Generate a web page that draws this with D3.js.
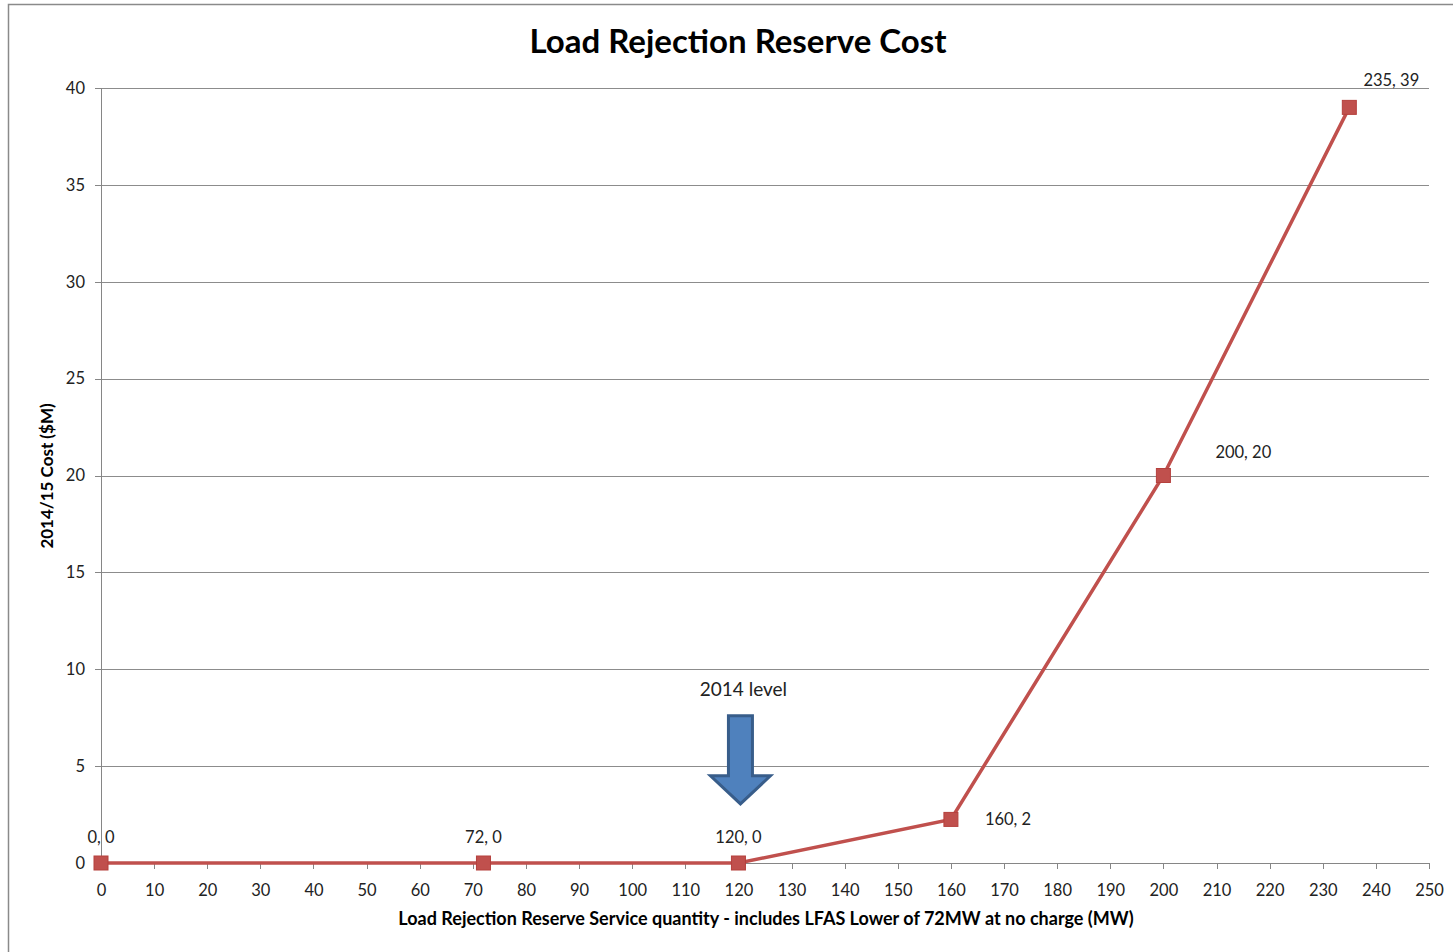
<!DOCTYPE html>
<html lang="en">
  <head>
    <meta charset="utf-8"/>
    <style>
      body {
        margin: 0;
        background: #fff;
        font-family: Lato, "Open Sans", sans-serif;
      }
      .axis text {
        font-family: Lato, "Open Sans", sans-serif;
        font-size: 16.5px;
        fill: #222;
      }
      .axis path,
      .axis line {
        stroke: #868686;
        shape-rendering: crispEdges;
      }
      .grid line {
        stroke: #8c8c8c;
        shape-rendering: crispEdges;
      }
      .grid path {
        display: none;
      }
    </style>
    <script src="https://cdn.jsdelivr.net/npm/d3@7"></script>
  </head>
  <body>
    <script type="text/javascript">
      // chart data
      var quantity = [0, 72, 120, 160, 200, 235];
      var cost = [0, 0, 0, 2.25, 20, 39];
      var pointLabels = ["0, 0", "72, 0", "120, 0", "160, 2", "200, 20", "235, 39"];
      var xTicks = d3.range(0, 251, 10);
      var yTicks = [0, 5, 10, 15, 20, 25, 30, 35, 40];
      var markerLevel = 120;
      var markerText = "2014 level";

      var w = 1453;
      var h = 952;
      var padL = 101, padR = 1429, padT = 88, padB = 863;

      var svg = d3.select("body")
                  .append("svg")
                  .attr("width", w)
                  .attr("height", h);

      // outer chart frame
      svg.append("rect")
         .attr("x", 8.5)
         .attr("y", 4.5)
         .attr("width", 1460)
         .attr("height", 960)
         .attr("fill", "none")
         .attr("stroke", "#8a8a8a")
         .attr("stroke-width", 1.5);

      var xScale = d3.scaleLinear()
                     .domain([0, 250])
                     .range([padL, padR]);
      var yScale = d3.scaleLinear()
                     .domain([0, 40])
                     .range([padB, padT]);

      // horizontal gridlines
      svg.append("g")
         .attr("class", "grid")
         .attr("transform", "translate(" + padL + ",0)")
         .call(d3.axisLeft(yScale).tickValues(yTicks).tickSize(-(padR - padL)).tickFormat(""));

      // y axis
      svg.append("g")
         .attr("class", "axis")
         .attr("transform", "translate(" + padL + ",0)")
         .call(d3.axisLeft(yScale).tickValues(yTicks).tickSize(6).tickPadding(10))
         .call(function(g) { g.select(".domain").attr("d", "M0," + padB + "V" + padT); });

      // x axis
      svg.append("g")
         .attr("class", "axis")
         .attr("transform", "translate(0," + padB + ")")
         .call(d3.axisBottom(xScale).tickValues(xTicks).tickSize(6).tickPadding(15))
         .call(function(g) { g.select(".domain").attr("d", "M" + padL + ",0H" + padR); });

      // data line
      var line = d3.line()
                   .x(function(d, i) { return xScale(quantity[i]); })
                   .y(function(d) { return yScale(d); });

      svg.append("path")
         .datum(cost)
         .attr("d", line)
         .attr("fill", "none")
         .attr("stroke", "#c0504d")
         .attr("stroke-width", 3.5);

      svg.selectAll("rect.marker")
         .data(cost)
         .enter()
         .append("rect")
         .attr("class", "marker")
         .attr("x", function(d, i) { return xScale(quantity[i]) - 7; })
         .attr("y", function(d) { return yScale(d) - 7; })
         .attr("width", 14)
         .attr("height", 14)
         .attr("fill", "#c0504d")
         .attr("stroke", "#b5403d")
         .attr("stroke-width", 1);

      // data labels (left three above, rest beside)
      svg.selectAll("text.lbl")
         .data(cost)
         .enter()
         .append("text")
         .attr("class", "lbl")
         .attr("x", function(d, i) {
           if (i < 3) return xScale(quantity[i]);
           if (i == 5) return xScale(quantity[i]) + 42;
           if (i == 4) return xScale(quantity[i]) + 52;
           return xScale(quantity[i]) + 34;
         })
         .attr("y", function(d, i) {
           if (i < 3) return yScale(d) - 20;
           if (i == 5) return yScale(d) - 21;
           if (i == 4) return yScale(d) - 18;
           return yScale(d) + 6;
         })
         .attr("text-anchor", function(d, i) { return i == 3 || i == 4 ? "start" : "middle"; })
         .attr("font-size", "16.5px")
         .attr("fill", "#222")
         .text(function(d, i) { return pointLabels[i]; });

      // 2014 level arrow
      var ax = xScale(markerLevel) + 2;
      var arrow = d3.path();
      arrow.moveTo(ax - 12, yScale(7.6));
      arrow.lineTo(ax + 12, yScale(7.6));
      arrow.lineTo(ax + 12, yScale(4.5));
      arrow.lineTo(ax + 30, yScale(4.5));
      arrow.lineTo(ax, yScale(3.05));
      arrow.lineTo(ax - 30, yScale(4.5));
      arrow.lineTo(ax - 12, yScale(4.5));
      arrow.closePath();
      svg.append("path")
         .attr("d", arrow.toString())
         .attr("fill", "#4f81bd")
         .attr("stroke", "#385d8a")
         .attr("stroke-width", 3)
         .attr("stroke-linejoin", "miter");

      svg.append("text")
         .attr("x", xScale(markerLevel) + 5)
         .attr("y", yScale(8.6))
         .attr("text-anchor", "middle")
         .attr("font-size", "19px")
         .attr("fill", "#222")
         .text(markerText);

      // title
      svg.append("text")
         .attr("x", 738)
         .attr("y", 53)
         .attr("text-anchor", "middle")
         .attr("font-size", "33px")
         .attr("font-weight", "bold")
         .attr("fill", "#000")
         .text("Load Rejection Reserve Cost");

      // x-axis label
      svg.append("text")
         .attr("x", 766)
         .attr("y", 925)
         .attr("text-anchor", "middle")
         .attr("font-size", "18px")
         .attr("font-weight", "bold")
         .attr("fill", "#000")
         .text("Load Rejection Reserve Service quantity - includes LFAS Lower of 72MW at no charge (MW)");

      // y-axis label
      svg.append("text")
         .attr("transform", "translate(53,476) rotate(-90)")
         .attr("text-anchor", "middle")
         .attr("font-size", "17px")
         .attr("font-weight", "bold")
         .attr("fill", "#000")
         .text("2014/15 Cost ($M)");
    </script>
  </body>
</html>
